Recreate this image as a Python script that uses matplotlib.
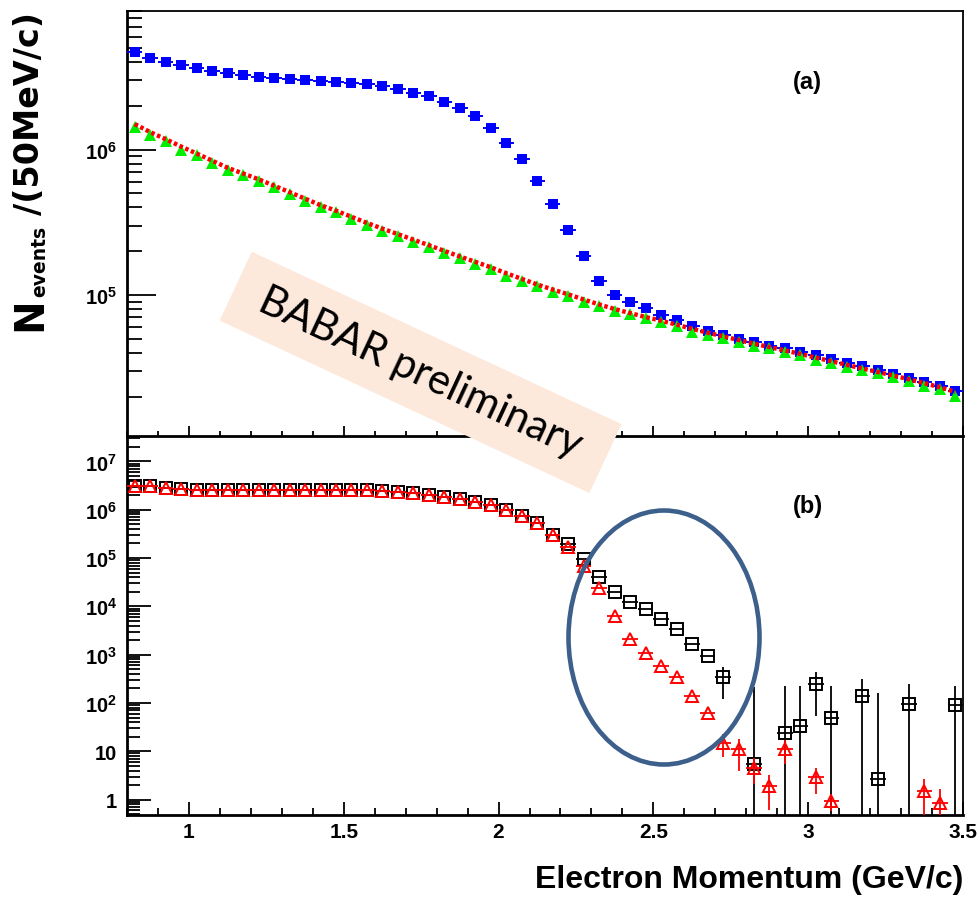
import numpy as np
import matplotlib
matplotlib.use('Agg')
import matplotlib.pyplot as plt
from matplotlib import font_manager as fm
from matplotlib.patches import Rectangle, Ellipse
from matplotlib.transforms import Affine2D
from matplotlib.ticker import (LogLocator, NullFormatter, FuncFormatter, MultipleLocator,
                               FixedLocator)

# ---------------- data ----------------
bin_low, bin_width, n_bins = 0.8, 0.05, 54
momentum = bin_low + bin_width * (np.arange(n_bins) + 0.5)

# panel (a)
blue_data = [4.68e6, 4.30e6, 4.04e6, 3.83e6, 3.63e6, 3.48e6, 3.37e6, 3.27e6, 3.16e6, 3.10e6,
             3.07e6, 3.00e6, 2.97e6, 2.94e6, 2.88e6, 2.82e6, 2.73e6, 2.62e6, 2.46e6, 2.33e6,
             2.12e6, 1.95e6, 1.70e6, 1.40e6, 1.11e6, 8.64e5, 6.13e5, 4.23e5, 2.80e5, 1.84e5,
             1.25e5, 1.00e5, 8.9e4, 8.1e4, 7.3e4, 6.76e4, 6.09e4, 5.68e4, 5.31e4, 4.98e4,
             4.72e4, 4.48e4, 4.30e4, 4.03e4, 3.87e4, 3.63e4, 3.39e4, 3.26e4, 3.05e4, 2.86e4,
             2.68e4, 2.51e4, 2.36e4, 2.20e4]
green_data = [1.43e6, 1.26e6, 1.14e6, 1.00e6, 9.2e5, 8.1e5, 7.28e5, 6.69e5, 6.12e5, 5.51e5,
              4.96e5, 4.46e5, 4.01e5, 3.71e5, 3.34e5, 3.03e5, 2.77e5, 2.56e5, 2.33e5, 2.13e5,
              1.95e5, 1.79e5, 1.63e5, 1.51e5, 1.36e5, 1.24e5, 1.15e5, 1.05e5, 9.9e4, 9.0e4,
              8.36e4, 7.72e4, 7.4e4, 6.91e4, 6.55e4, 6.15e4, 5.59e4, 5.31e4, 5.04e4, 4.73e4,
              4.48e4, 4.30e4, 4.07e4, 3.87e4, 3.57e4, 3.39e4, 3.21e4, 3.05e4, 2.89e4, 2.72e4,
              2.57e4, 2.38e4, 2.25e4, 2.03e4]
red_curve = [1.50e6, 1.32e6, 1.18e6, 1.05e6, 9.4e5, 8.4e5, 7.5e5, 6.85e5, 6.25e5, 5.65e5,
             5.1e5, 4.6e5, 4.15e5, 3.8e5, 3.45e5, 3.13e5, 2.86e5, 2.62e5, 2.4e5, 2.2e5,
             2.01e5, 1.84e5, 1.69e5, 1.55e5, 1.41e5, 1.29e5, 1.18e5, 1.09e5, 1.01e5, 9.3e4,
             8.6e4, 8.0e4, 7.5e4, 7.05e4, 6.65e4, 6.25e4, 5.85e4, 5.5e4, 5.2e4, 4.9e4,
             4.62e4, 4.38e4, 4.15e4, 3.93e4, 3.7e4, 3.5e4, 3.3e4, 3.12e4, 2.95e4, 2.79e4,
             2.63e4, 2.47e4, 2.32e4, 2.15e4]

# panel (b)
nan = np.nan
black_sq = [3.13e6, 3.04e6, 2.76e6, 2.67e6, 2.55e6, 2.55e6, 2.55e6, 2.55e6, 2.57e6, 2.55e6,
            2.57e6, 2.57e6, 2.55e6, 2.55e6, 2.55e6, 2.55e6, 2.47e6, 2.35e6, 2.21e6, 2.04e6,
            1.85e6, 1.66e6, 1.46e6, 1.25e6, 9.8e5, 7.5e5, 5.2e5, 2.98e5, 1.94e5, 9.5e4,
            4.08e4, 1.94e4, 1.24e4, 8.7e3, 5.4e3, 3.4e3, 1.65e3, 944, 337, nan,
            5.4, nan, 23.7, 33.6, 245, 50, nan, 140, 2.7, nan,
            94.5, nan, nan, 90]
black_err = [0] * 38 + [215, 0, 205, 0, 202, 192, 190, 176, 0, 171, 162, 0, 150, 0, 0, 136]
red_tri = [3.13e6, 3.04e6, 2.76e6, 2.67e6, 2.55e6, 2.55e6, 2.55e6, 2.55e6, 2.57e6, 2.55e6,
           2.57e6, 2.57e6, 2.55e6, 2.55e6, 2.55e6, 2.55e6, 2.47e6, 2.35e6, 2.21e6, 2.04e6,
           1.85e6, 1.66e6, 1.46e6, 1.25e6, 9.8e5, 7.5e5, 5.2e5, 2.98e5, 1.66e5, 6.9e4,
           2.35e4, 6.4e3, 2.1e3, 1.07e3, 586, 337, 140, 61.5, 15.2, 11,
           4.6, 1.9, 11.4, nan, 2.9, 0.94, nan, nan, nan, nan,
           nan, 1.5, 0.87, nan]
red_err = [0] * 38 + [7.6, 7.0, 2.5, 1.3, 6.0, 0, 1.6, 0.35, 0, 0, 0, 0, 0, 1.2, 0.8, 0]

x_tick_values = [1, 1.5, 2, 2.5, 3, 3.5]
x_tick_labels = ['1', '1.5', '2', '2.5', '3', '3.5']
top_y_ticks = [1e5, 1e6]
bottom_y_ticks = [1, 10, 1e2, 1e3, 1e4, 1e5, 1e6, 1e7]

# ---------------- fonts ----------------
avail = {f.name for f in fm.fontManager.ttflist}
NARROW = 'Liberation Sans Narrow' if 'Liberation Sans Narrow' in avail else 'Liberation Sans'
plt.rcParams['mathtext.fontset'] = 'custom'
for k in ['rm', 'it', 'bf', 'sf']:
    plt.rcParams['mathtext.' + k] = NARROW + ':bold'

W, H = 978, 904
fig = plt.figure(figsize=(W / 100, H / 100), dpi=100)


def px_box(l, t, r, b):
    return [l / W, 1 - b / H, (r - l) / W, (b - t) / H]


ax1 = fig.add_axes(px_box(127, 12, 963, 437))
ax2 = fig.add_axes(px_box(127, 438, 963, 816))

xerr = bin_width / 2

# ---- panel (a)
ax1.errorbar(momentum, blue_data, xerr=xerr, fmt='s', color='#0000ff', ms=7.5, mew=0,
             elinewidth=1.4, capsize=0, zorder=3)
ax1.plot(momentum, green_data, '^', color='#00ee00', ms=8.5, mew=0, zorder=4)
ax1.plot(momentum, red_curve, color='#ff0000', lw=3.2, ls=(0, (0.8, 0.6)), zorder=5)
ax1.set_ylim(1.07e4, 9e6)

# ---- panel (b)
bsq = np.array(black_sq, float)
berr = np.array(black_err, float)
rtr = np.array(red_tri, float)
rerr = np.array(red_err, float)
ax2.errorbar(momentum, bsq, yerr=[np.minimum(berr, bsq * 0.9999), berr], xerr=xerr,
             fmt='s', ms=8.5, mfc='none', mec='black', mew=1.4, ecolor='black',
             elinewidth=1.3, capsize=0, zorder=3)
ax2.errorbar(momentum, rtr, yerr=[np.minimum(rerr, rtr * 0.9999), rerr], xerr=xerr,
             fmt='^', ms=8.5, mfc='none', mec='#ff0000', mew=1.4, ecolor='#ff0000',
             elinewidth=1.3, capsize=0, zorder=4)
ax2.set_ylim(0.48, 3.2e7)


def log_fmt(v, pos):
    n = int(round(np.log10(v)))
    if n == 0:
        return '1'
    if n == 1:
        return '10'
    return r'$\mathregular{10^{%d}}$' % n


for ax, yt in ((ax1, top_y_ticks), (ax2, bottom_y_ticks)):
    ax.set_yscale('log')
    ax.set_xlim(0.8, 3.5)
    ax.xaxis.set_major_locator(FixedLocator(x_tick_values))
    ax.xaxis.set_minor_locator(MultipleLocator(0.1))
    ax.yaxis.set_major_locator(FixedLocator(yt))
    ax.yaxis.set_minor_locator(LogLocator(base=10, subs=np.arange(2, 10), numticks=60))
    ax.yaxis.set_major_formatter(FuncFormatter(log_fmt))
    ax.yaxis.set_minor_formatter(NullFormatter())
    ax.tick_params(which='both', direction='in', top=False, right=False, width=1.3)
    ax.tick_params(axis='y', which='major', labelsize=14.5, pad=7)
    for s in ax.spines.values():
        s.set_linewidth(1.3)
    ax.spines['left'].set_linewidth(2)
    ax.spines['bottom'].set_linewidth(2)

ax1.tick_params(axis='y', which='major', length=21)
ax1.tick_params(axis='y', which='minor', length=11)
ax1.tick_params(axis='x', which='major', length=7)
ax1.tick_params(axis='x', which='minor', length=3.5)
ax1.tick_params(labelbottom=False)
ax2.tick_params(axis='y', which='major', length=17)
ax2.tick_params(axis='y', which='minor', length=9)
ax2.tick_params(axis='x', which='major', length=9.5, labelsize=15, pad=5)
ax2.tick_params(axis='x', which='minor', length=5)
ax2.set_xticklabels(x_tick_labels, fontfamily=NARROW, fontweight='bold')
for ax in (ax1, ax2):
    for lab in ax.get_yticklabels():
        lab.set_fontfamily(NARROW)
        lab.set_fontweight('bold')

# panel tags
fig.text(807 / W, 1 - 82 / H, '(a)', ha='center', va='center', fontsize=17,
         fontfamily=NARROW, fontweight='bold')
fig.text(808 / W, 1 - 506 / H, '(b)', ha='center', va='center', fontsize=17,
         fontfamily=NARROW, fontweight='bold')

# axis titles
fig.text(963 / W, 1 - 880 / H, 'Electron Momentum (GeV/c)', ha='right', va='center',
         fontsize=23, fontfamily=NARROW, fontweight='bold')
fig.text(30 / W, 1 - 331 / H, 'N', rotation=90, ha='center', va='bottom', fontsize=29,
         fontfamily='DejaVu Sans', fontweight='bold')
fig.text(40 / W, 1 - 297 / H, 'events', rotation=90, ha='center', va='bottom', fontsize=13.5,
         fontfamily='DejaVu Sans', fontweight='bold')
fig.text(30 / W, 1 - 12 / H, '/(50MeV/c)', rotation=90, ha='center', va='top', fontsize=24,
         fontfamily='DejaVu Sans', fontweight='bold')

# overlays in pixel coordinates
px = Affine2D().scale(1 / W, 1 / H) + fig.transFigure
cx, cy = 420.6, H - 373.4
rw, rh = 408, 76
stamp = Rectangle((cx - rw / 2, cy - rh / 2), rw, rh, facecolor='#fde9db', edgecolor='none',
                  transform=Affine2D().rotate_deg_around(cx, cy, -25) + px, zorder=5)
fig.add_artist(stamp)
fig.text(cx / W, cy / H, 'BABAR preliminary', rotation=-25, rotation_mode='anchor',
         ha='center', va='center', fontsize=30, family=['Lato', 'DejaVu Sans'],
         color='black', zorder=6)

ell = Ellipse((664, H - 638.5), 191, 254, facecolor='none', edgecolor='#3d5f8c', lw=3.3,
              transform=px, zorder=7)
fig.add_artist(ell)

fig.savefig('out.png', dpi=100)
